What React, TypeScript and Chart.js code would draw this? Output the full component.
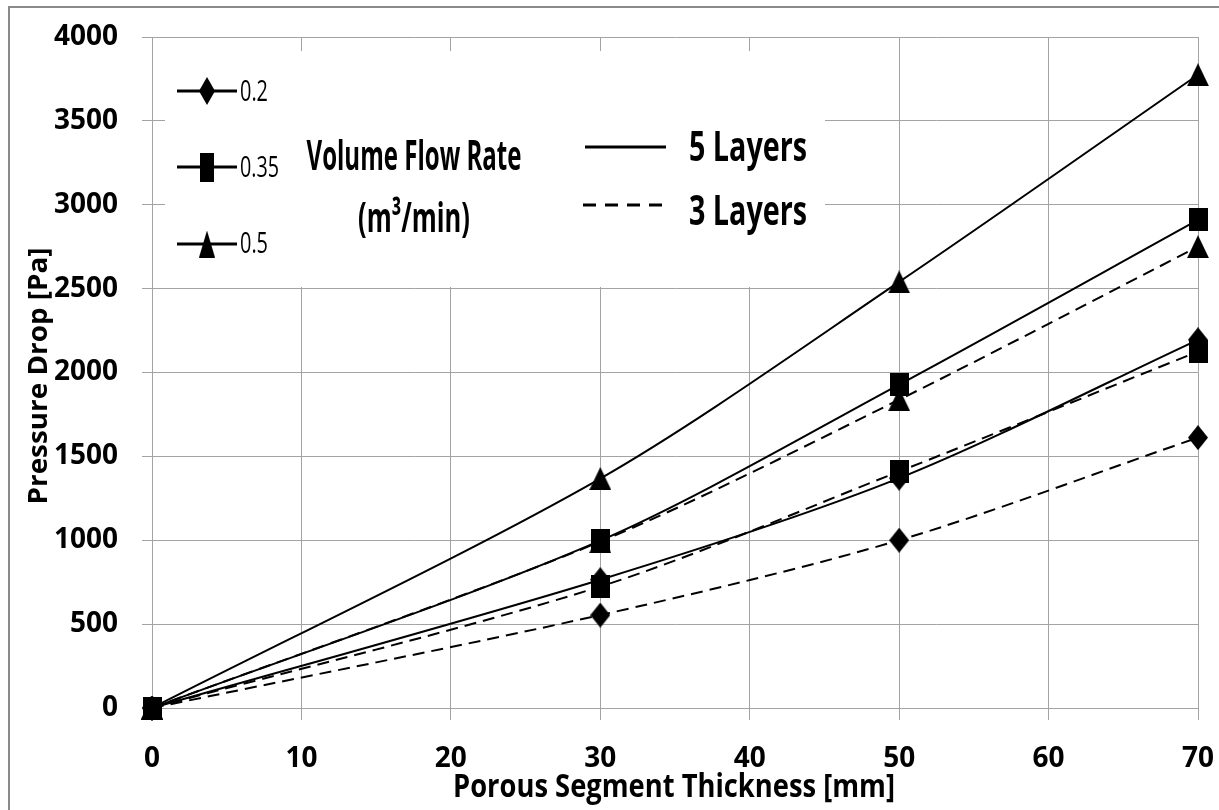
import React, { useEffect, useRef } from 'react';
import { Chart, registerables } from 'chart.js';

Chart.register(...registerables);

// ---- data ----
const thicknessMm = [0, 30, 50, 70];
const fiveLayers02 = [0, 765, 1370, 2195];
const fiveLayers035 = [0, 998, 1928, 2910];
const fiveLayers05 = [0, 1368, 2540, 3775];
const threeLayers02 = [0, 554, 1000, 1612];
const threeLayers035 = [0, 724, 1410, 2125];
const threeLayers05 = [0, 992, 1838, 2750];

const xTickValues = [0, 10, 20, 30, 40, 50, 60, 70];
const yTickValues = [0, 500, 1000, 1500, 2000, 2500, 3000, 3500, 4000];
const flowRateLabels = ['0.2', '0.35', '0.5'];
const layerLabels = ['5 Layers', '3 Layers'];
const legendTitle = ['Volume Flow Rate', '(m\u00B3/min)'];
const xTitle = 'Porous Segment Thickness [mm]';
const yTitle = 'Pressure Drop [Pa]';

const FONT = "'Open Sans', 'DejaVu Sans', sans-serif";
const CAP = 0.714;

function makeMarker(shape: string, w: number, h: number): HTMLCanvasElement {
  const c = document.createElement('canvas');
  c.width = w;
  c.height = h;
  const g = c.getContext('2d')!;
  g.fillStyle = '#000';
  g.beginPath();
  if (shape === 'diamond') {
    g.moveTo(w / 2, 0);
    g.lineTo(w, h / 2);
    g.lineTo(w / 2, h);
    g.lineTo(0, h / 2);
  } else if (shape === 'square') {
    g.rect(0, 0, w, h);
  } else {
    g.moveTo(w / 2, 0);
    g.lineTo(w, h);
    g.lineTo(0, h);
  }
  g.closePath();
  g.fill();
  return c;
}

function drawFitted(
  ctx: CanvasRenderingContext2D,
  text: string,
  weight: string,
  cap: number,
  x: number,
  baseline: number,
  width: number,
  align: CanvasTextAlign
) {
  ctx.save();
  ctx.font = `${weight} ${cap / CAP}px ${FONT}`;
  const m = ctx.measureText(text).width;
  ctx.translate(x, baseline);
  ctx.scale(width / m, 1);
  ctx.textAlign = align;
  ctx.textBaseline = 'alphabetic';
  ctx.fillStyle = '#000';
  ctx.fillText(text, 0, 0);
  ctx.restore();
}

export default function App() {
  const ref = useRef<HTMLCanvasElement | null>(null);

  useEffect(() => {
    const canvas = ref.current;
    if (!canvas) return;

    const dataMarkers = {
      diamond: makeMarker('diamond', 20, 25),
      square: makeMarker('square', 19, 23),
      triangle: makeMarker('triangle', 22, 23),
    };
    const legendMarkers = [
      makeMarker('diamond', 16, 28),
      makeMarker('square', 14, 29),
      makeMarker('triangle', 16, 27),
    ];

    const mk = (values: number[], marker: HTMLCanvasElement, dashed: boolean, label: string) => ({
      label,
      data: thicknessMm.map((x, i) => ({ x, y: values[i] })),
      borderColor: '#000',
      backgroundColor: '#000',
      borderWidth: 2,
      borderDash: dashed ? [12, 7] : [],
      tension: 0.3,
      pointStyle: marker,
      pointRadius: 10,
      pointHoverRadius: 10,
      fill: false,
      clip: false,
    });

    const decoPlugin = {
      id: 'deco',
      beforeDatasetsDraw(chart: any) {
        const ctx: CanvasRenderingContext2D = chart.ctx;
        ctx.save();
        // legend box covering the grid
        ctx.fillStyle = '#fff';
        ctx.fillRect(165, 51, 660, 236);

        // flow-rate legend entries
        const ys = [91, 167, 244];
        const baselines = [101, 177, 253];
        const widths = [28, 39, 28];
        flowRateLabels.forEach((lab, i) => {
          ctx.strokeStyle = '#000';
          ctx.lineWidth = 3;
          ctx.setLineDash([]);
          ctx.beginPath();
          ctx.moveTo(177, ys[i]);
          ctx.lineTo(237, ys[i]);
          ctx.stroke();
          const m = legendMarkers[i];
          ctx.drawImage(m, 207 - m.width / 2, ys[i] - m.height / 2);
          drawFitted(ctx, lab, 'normal', 21, 240, baselines[i], widths[i], 'left');
        });

        // legend title
        drawFitted(ctx, legendTitle[0], 'bold', 30, 414, 170, 215, 'center');
        drawFitted(ctx, legendTitle[1], 'bold', 30, 414, 232, 112, 'center');

        // line style legend
        ctx.strokeStyle = '#000';
        ctx.lineWidth = 3;
        ctx.setLineDash([]);
        ctx.beginPath();
        ctx.moveTo(585, 147);
        ctx.lineTo(666, 147);
        ctx.stroke();
        ctx.setLineDash([13, 9]);
        ctx.beginPath();
        ctx.moveTo(583, 205);
        ctx.lineTo(666, 205);
        ctx.stroke();
        ctx.setLineDash([]);
        drawFitted(ctx, layerLabels[0], 'bold', 29, 689, 161, 118, 'left');
        drawFitted(ctx, layerLabels[1], 'bold', 29, 689, 225, 118, 'left');
        ctx.restore();
      },
      afterDraw(chart: any) {
        const ctx: CanvasRenderingContext2D = chart.ctx;
        ctx.save();
        // outer frame
        ctx.strokeStyle = '#8a8a8a';
        ctx.lineWidth = 2;
        ctx.beginPath();
        ctx.moveTo(9, 810);
        ctx.lineTo(9, 7);
        ctx.lineTo(1219, 7);
        ctx.stroke();
        // x title
        const ca = chart.chartArea;
        drawFitted(ctx, xTitle, 'bold', 23, (ca.left + ca.right) / 2 - 1, 797, 442, 'center');
        // y title (rotated)
        ctx.save();
        ctx.font = `bold ${23 / CAP}px ${FONT}`;
        const m = ctx.measureText(yTitle).width;
        ctx.translate(47, 376);
        ctx.rotate(-Math.PI / 2);
        ctx.scale(257 / m, 0.83);
        ctx.textAlign = 'center';
        ctx.textBaseline = 'alphabetic';
        ctx.fillStyle = '#000';
        ctx.fillText(yTitle, 0, 0);
        ctx.restore();
        ctx.restore();
      },
    };

    const chart = new Chart(canvas, {
      type: 'line',
      data: {
        datasets: [
          mk(fiveLayers05, dataMarkers.triangle, false, '0.5 - 5 Layers'),
          mk(fiveLayers035, dataMarkers.square, false, '0.35 - 5 Layers'),
          mk(fiveLayers02, dataMarkers.diamond, false, '0.2 - 5 Layers'),
          mk(threeLayers05, dataMarkers.triangle, true, '0.5 - 3 Layers'),
          mk(threeLayers035, dataMarkers.square, true, '0.35 - 3 Layers'),
          mk(threeLayers02, dataMarkers.diamond, true, '0.2 - 3 Layers'),
        ] as any,
      },
      options: {
        animation: false,
        responsive: false,
        events: [],
        layout: { padding: { left: 10, right: 21, top: 37, bottom: 0 } },
        plugins: {
          legend: { display: false },
          tooltip: { enabled: false },
        },
        scales: {
          x: {
            type: 'linear',
            min: 0,
            max: 70,
            afterFit: (s: any) => {
              s.height = 102;
              s.paddingLeft = 0;
              s.paddingRight = 0;
            },
            afterBuildTicks: (s: any) => {
              s.ticks = xTickValues.map((v) => ({ value: v }));
            },
            ticks: {
              color: '#000',
              padding: 22,
              maxRotation: 0,
              callback: (v: any) => String(v),
              font: { family: FONT, weight: 'bold', size: 28 },
            },
            grid: { color: '#a3a3a3', lineWidth: 1, tickLength: 12, drawTicks: true },
            border: { color: '#a3a3a3', width: 1 },
          },
          y: {
            type: 'linear',
            min: 0,
            max: 4000,
            afterFit: (s: any) => {
              s.width = 142;
              s.paddingTop = 0;
              s.paddingBottom = 0;
            },
            afterBuildTicks: (s: any) => {
              s.ticks = yTickValues.map((v) => ({ value: v }));
            },
            ticks: {
              color: '#000',
              padding: 24,
              callback: (v: any) => String(v),
              font: { family: FONT, weight: 'bold', size: 28 },
            },
            grid: { color: '#a3a3a3', lineWidth: 1, tickLength: 10, drawTicks: true },
            border: { color: '#a3a3a3', width: 1 },
          },
        },
      } as any,
      plugins: [decoPlugin],
    });

    return () => chart.destroy();
  }, []);

  return (
    <div style={{ position: 'absolute', left: 0, top: 0, width: 1219, height: 810, background: '#fff' }}>
      <canvas ref={ref} width={1219} height={810} style={{ display: 'block' }} />
    </div>
  );
}
